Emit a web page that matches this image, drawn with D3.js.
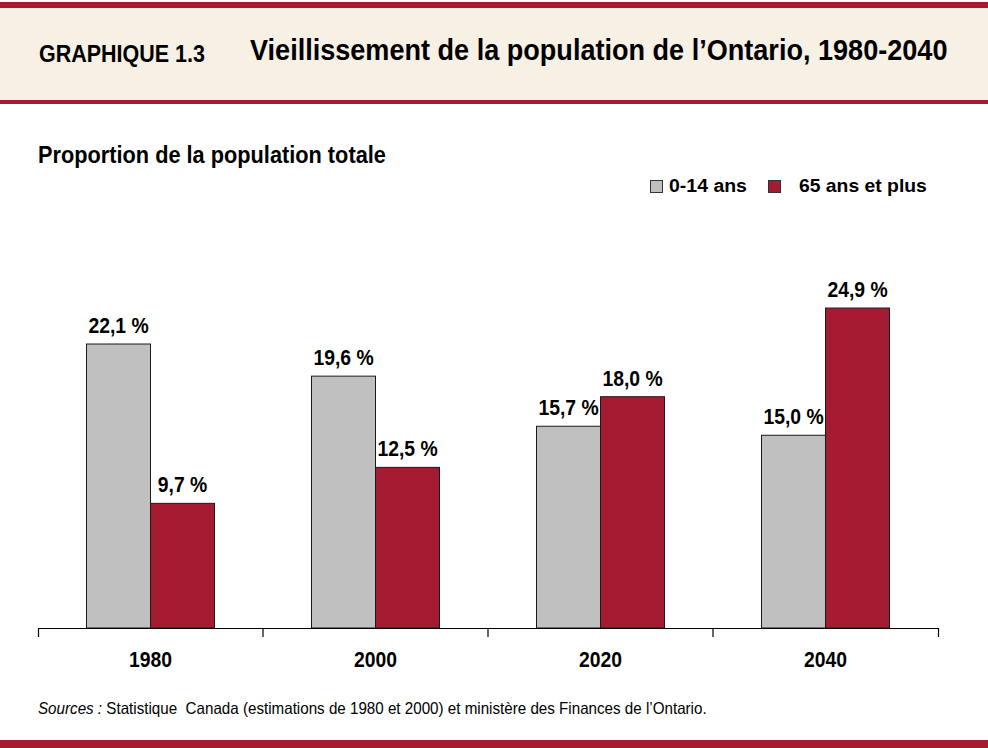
<!DOCTYPE html>
<html>
<head>
<meta charset="utf-8">
<script src="https://cdn.jsdelivr.net/npm/d3@7"></script>
<style>
  html, body { margin: 0; padding: 0; background: #ffffff; }
  svg { display: block; font-family: "Liberation Sans", Arial, sans-serif; }
</style>
</head>
<body>
<svg id="chart" width="988" height="748"></svg>
<script>
// ---- data ----
const categories = ["1980", "2000", "2020", "2040"];
const seriesNames = ["0-14 ans", "65 ans et plus"];
const values0to14 = [22.1, 19.6, 15.7, 15.0];
const values65plus = [9.7, 12.5, 18.0, 24.9];
const chartLabel = "GRAPHIQUE 1.3";
const chartTitle = "Vieillissement de la population de l\u2019Ontario, 1980-2040";
const yAxisTitle = "Proportion de la population totale";
const sourceLabel = "Sources :";
const sourceText = " Statistique  Canada (estimations de 1980 et 2000) et minist\u00e8re des Finances de l\u2019Ontario.";

const seriesValues = [values0to14, values65plus];
const colors = ["#c0c0c0", "#a51b31"];
const rows = categories.map((c, i) => ({cat: c, vals: seriesNames.map((s, j) => ({s, v: seriesValues[j][i]}))}));

const fr = d3.formatLocale({decimal: ",", thousands: "\u00a0", grouping: [3], currency: ["", " $"]});
const fmt = v => fr.format(".1f")(v) + " %";

const svg = d3.select("#chart");
const W = 988, H = 748;

// place a text at (x,y) and squeeze it horizontally to the given width
function placeFit(sel, x, y, width) {
  sel.attr("x", 0).attr("y", 0);
  const w = sel.node().getComputedTextLength();
  sel.attr("transform", `translate(${x},${y}) scale(${width / w},1)`);
}
// squeeze texts around their own x position by a factor
function condense(sel, factor) {
  sel.each(function () {
    const t = d3.select(this);
    const x = +t.attr("x") || 0, y = +t.attr("y") || 0;
    t.attr("x", 0).attr("y", 0)
      .attr("transform", `translate(${x},${y}) scale(${factor},1)`);
  });
}

// ---- header ----
svg.append("rect").attr("x", 0).attr("y", 8).attr("width", W).attr("height", 92).attr("fill", "#f7f0e4");
svg.append("rect").attr("x", 0).attr("y", 2).attr("width", W).attr("height", 6).attr("fill", "#a51b31");
svg.append("rect").attr("x", 0).attr("y", 100).attr("width", W).attr("height", 4).attr("fill", "#a51b31");
svg.append("rect").attr("x", 0).attr("y", 740).attr("width", W).attr("height", 8).attr("fill", "#a51b31");

svg.append("text").attr("font-size", 23).attr("font-weight", "bold")
  .attr("fill", "#000").text(chartLabel).call(placeFit, 39, 62, 166);
svg.append("text").attr("font-size", 29.5).attr("font-weight", "bold")
  .attr("fill", "#000").text(chartTitle).call(placeFit, 250, 60, 698);

svg.append("text").attr("font-size", 23).attr("font-weight", "bold")
  .attr("fill", "#000").text(yAxisTitle).call(placeFit, 38, 163, 348);

// ---- legend ----
const legendPos = [{sx: 650, tx: 669, tw: 78}, {sx: 768, tx: 799, tw: 128}];
const leg = svg.append("g");
seriesNames.forEach((s, i) => {
  leg.append("rect").attr("x", legendPos[i].sx + 0.5).attr("y", 180.5).attr("width", 12).attr("height", 12)
    .attr("fill", colors[i]).attr("stroke", "#333").attr("stroke-width", 1);
  leg.append("text").attr("font-size", 19).attr("font-weight", "bold")
    .attr("fill", "#000").text(s).call(placeFit, legendPos[i].tx, 192, legendPos[i].tw);
});

// ---- scales ----
const x0 = d3.scaleBand().domain(categories).range([38, 938]).paddingInner(0).paddingOuter(0);
const x1 = d3.scaleBand().domain(seriesNames).range([48.5, 176.5]).padding(0);
const y = d3.scaleLinear().domain([0, 30]).range([628, 628 - 30 * 12.85]);

// ---- bars ----
const groups = svg.append("g").selectAll("g").data(rows).join("g")
  .attr("transform", d => `translate(${x0(d.cat)},0)`);
groups.selectAll("rect").data(d => d.vals).join("rect")
  .attr("x", d => x1(d.s))
  .attr("y", d => y(d.v))
  .attr("width", x1.bandwidth())
  .attr("height", d => y(0) - y(d.v))
  .attr("fill", (d, i) => colors[i])
  .attr("stroke", "#1a1a1a").attr("stroke-width", 1);
groups.selectAll("text").data(d => d.vals).join("text")
  .attr("x", d => x1(d.s) + x1.bandwidth() / 2)
  .attr("y", d => y(d.v) - 11)
  .attr("text-anchor", "middle").attr("font-size", 22.5).attr("font-weight", "bold").attr("fill", "#000")
  .text(d => fmt(d.v))
  .call(condense, 0.86);

// ---- axis ----
const axis = svg.append("g").attr("transform", "translate(0,628)")
  .call(d3.axisBottom(x0).tickSize(0).tickSizeOuter(9).tickPadding(22));
axis.select(".domain").attr("stroke", "#000").attr("stroke-width", 1.2);
axis.selectAll(".tick text").attr("font-size", 22.5).attr("font-weight", "bold").attr("fill", "#000")
  .attr("font-family", "Liberation Sans, Arial, sans-serif").attr("dy", null).attr("y", 39)
  .call(condense, 0.86);
axis.append("g").selectAll("line").data(categories.slice(1)).join("line")
  .attr("x1", d => x0(d)).attr("x2", d => x0(d)).attr("y1", 0).attr("y2", 9)
  .attr("stroke", "#000").attr("stroke-width", 1.2);

// ---- source ----
const src = svg.append("text").attr("font-size", 16.5).attr("fill", "#000").style("white-space", "pre");
src.append("tspan").attr("font-style", "italic").text(sourceLabel);
src.append("tspan").text(sourceText);
src.call(placeFit, 38, 714, 669);
</script>
</body>
</html>
